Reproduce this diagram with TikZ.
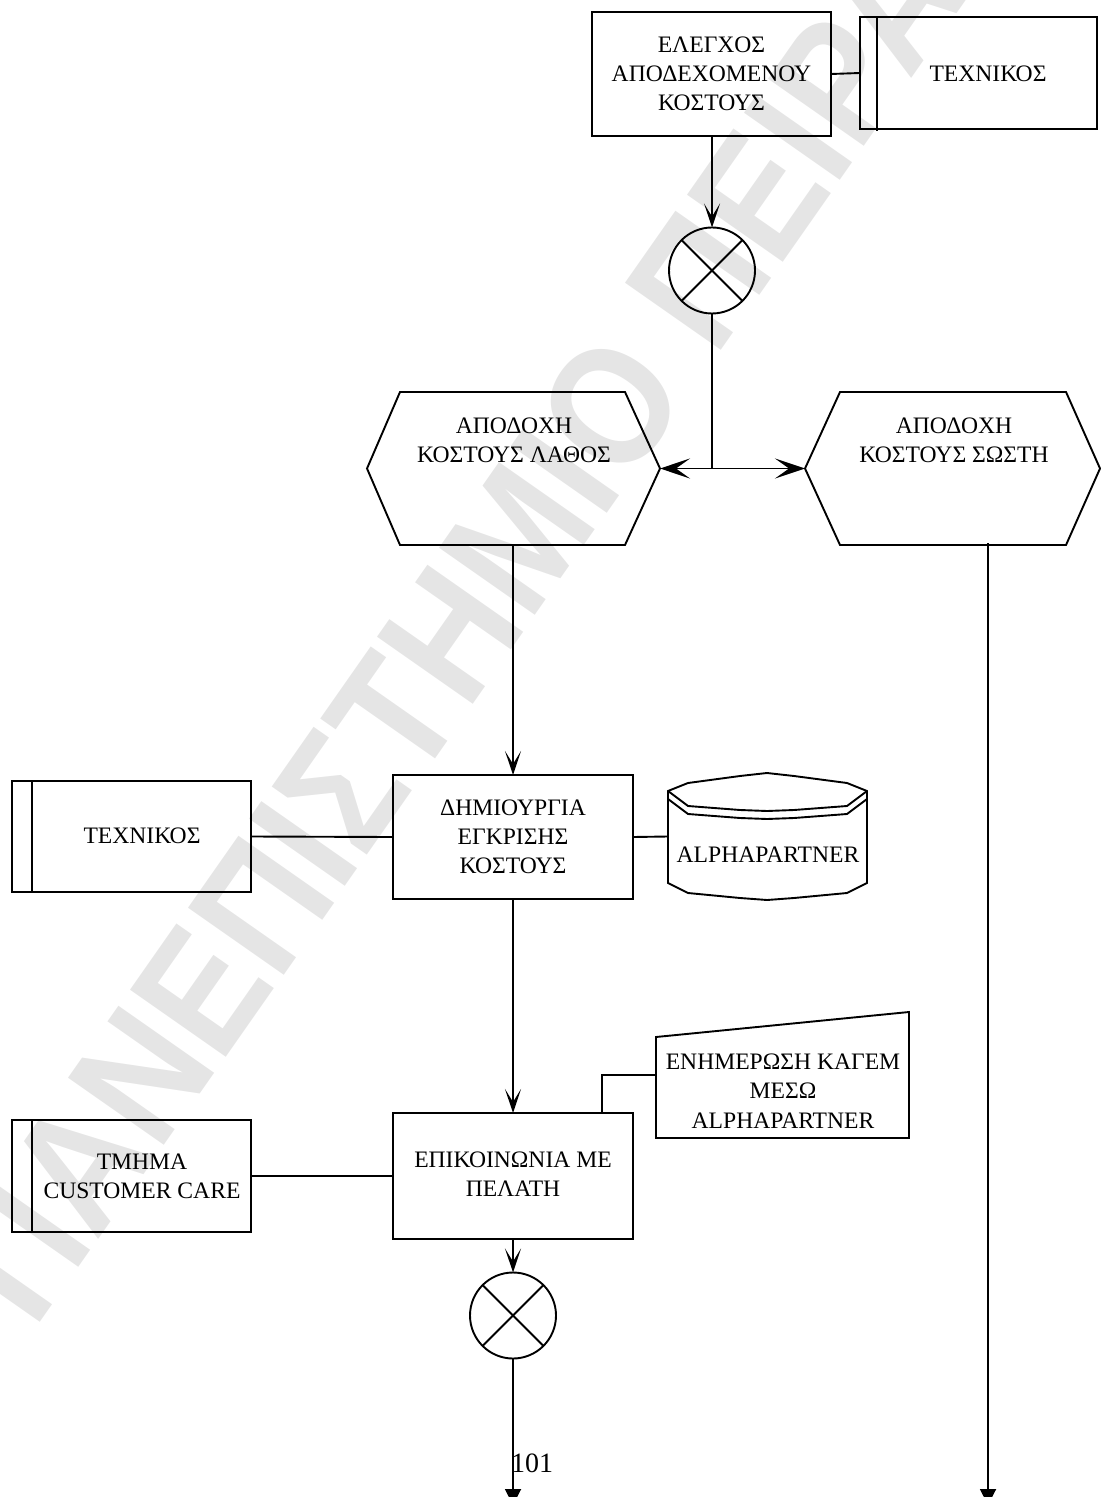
\documentclass[tikz,border=0pt]{standalone}
\usepackage{fontspec}
\setmainfont{Liberation Serif}
\newfontfamily\wmfont[FakeStretch=0.88]{Liberation Sans}
\usetikzlibrary{arrows.meta,calc}
\definecolor{wmgray}{RGB}{229,229,229}

\tikzset{
  varrow/.tip={Stealth[length=12pt,width=8pt,inset=6.5pt]},
  harrow/.tip={Stealth[length=15pt,width=10pt,inset=7pt]},
  endtri/.tip={Triangle[length=8pt,width=8pt]},
  lbl/.style={inner sep=0pt,outer sep=0pt,align=center,
    font=\fontsize{11.8}{14.6}\selectfont},
  procbox/.style 2 args={lbl,draw,rectangle,minimum width=#1,minimum height=#2},
  ghost/.style 2 args={rectangle,inner sep=0pt,outer sep=0pt,minimum width=#1,minimum height=#2},
  xorc/.style={draw,circle,minimum size=43pt,inner sep=0pt,outer sep=0pt},
  wm/.style={inner sep=0pt,outer sep=0pt,text=wmgray,
    font=\wmfont\bfseries\fontsize{85}{85}\selectfont},
}

\begin{document}
\begin{tikzpicture}[x=0.5pt,y=-0.5pt,line width=0.95pt]
\useasboundingbox (0,0) rectangle (1100,1497);

% background watermark
\node[wm,rotate=55,anchor=west] (wmark) at (-13,1297) {ΠΑΝΕΠΙΣΤΗΜΙΟ ΠΕΙΡΑΙΩΣ};

% process boxes
\node[procbox={119.5pt}{62pt}] (chk) at (711.5,74) {ΕΛΕΓΧΟΣ\\ΑΠΟΔΕΧΟΜΕΝΟΥ\\ΚΟΣΤΟΥΣ};
\node[procbox={120pt}{62pt}] (crt) at (513,837) {ΔΗΜΙΟΥΡΓΙΑ\\ΕΓΚΡΙΣΗΣ\\ΚΟΣΤΟΥΣ};
\node[procbox={120pt}{63pt}] (comm) at (513,1176) {\raisebox{-4pt}{\begin{tabular}{@{}c@{}}ΕΠΙΚΟΙΝΩΝΙΑ ΜΕ\\ΠΕΛΑΤΗ\end{tabular}}};

% role boxes with a side stripe
\node[procbox={118.5pt}{56pt}] (tech1) at (978.5,73) {};
\node[procbox={119.5pt}{55.5pt}] (tech2) at (131.5,836.5) {};
\node[procbox={119.5pt}{56pt}] (cc) at (131.5,1176) {};
\draw ($(tech1.north west)+(17,0)$) -- ($(tech1.south west)+(17,2)$);
\draw ($(tech2.north west)+(20,0)$) -- ($(tech2.south west)+(20,0)$);
\draw ($(cc.north west)+(20,0)$) -- ($(cc.south west)+(20,0)$);
\node[lbl] (tech1t) at (988,74) {ΤΕΧΝΙΚΟΣ};
\node[lbl] (tech2t) at (142,836) {ΤΕΧΝΙΚΟΣ};
\node[lbl] (cct) at (142,1176) {ΤΜΗΜΑ\\CUSTOMER CARE};

% XOR connectors
\node[xorc] (x1) at (712,270.5) {};
\node[xorc] (x2) at (513,1315.5) {};
\foreach \c in {x1,x2}{
  \draw (\c.45) -- (\c.225);
  \draw (\c.135) -- (\c.-45);
}

% events (hexagons)
\node[ghost={146.5pt}{76.5pt}] (hexL) at (513.5,468.5) {};
\node[ghost={147.5pt}{76.5pt}] (hexR) at (952.5,468.5) {};
\draw (hexL.west) -- (400,392) -- (625,392) -- (hexL.east) -- (625,545) -- (400,545) -- cycle;
\draw (hexR.west) -- (840,392) -- (1066,392) -- (hexR.east) -- (1066,545) -- (840,545) -- cycle;
\node[lbl] (hexLt) at (514,440) {ΑΠΟΔΟΧΗ\\ΚΟΣΤΟΥΣ ΛΑΘΟΣ};
\node[lbl] (hexRt) at (954,440) {ΑΠΟΔΟΧΗ\\ΚΟΣΤΟΥΣ ΣΩΣΤΗ};

% database
\node[ghost={99.5pt}{63.5pt}] (db) at (767.5,836.5) {};
\draw (668,791) -- (688,783) -- (740,776) -- (767,773) -- (794,776) -- (847,783) -- (867,791)
  -- (867,883) -- (847,893) -- (794,898) -- (767,900) -- (740,898) -- (688,893) -- (668,883) -- cycle;
\foreach \c in {791,799}{
  \draw (668,\c) -- (688,\c+15) -- (740,\c+19) -- (767,\c+20) -- (794,\c+19) -- (847,\c+15) -- (867,\c);
}
\node[lbl] (dbt) at (768,855) {ALPHAPARTNER};

% document input
\node[ghost={126.5pt}{63pt}] (upd) at (782.5,1075) {};
\draw (656,1037) -- (909,1012) -- (909,1138) -- (656,1138) -- cycle;
\node[lbl] (updt) at (783,1091) {ΕΝΗΜΕΡΩΣΗ ΚΑΓΕΜ\\ΜΕΣΩ\\ALPHAPARTNER};

% page number
\node[inner sep=0pt,font=\fontsize{14}{14}\selectfont] (pg) at (532,1463) {101};

% connectors
\coordinate (j) at (x1 |- hexL.east);
\coordinate (rOut) at (988,543);
\coordinate (endL) at (513,1505);
\draw (chk.east) -- (tech1.west);
\draw[-{varrow}] (x1.north |- chk.south) -- (x1.north);
\draw (x1.south) -- (j);
\draw[-{harrow}] (j) -- (hexL.east);
\draw[-{harrow}] (j) -- (hexR.west);
\draw[-{varrow}] (crt.north |- hexL.south) -- (crt.north);
\draw[-{endtri}] (rOut) -- (rOut |- endL);
\draw (tech2.east) -- (crt.west);
\draw (crt.east) -- (db.west);
\draw[-{varrow}] (crt.south) -- (comm.north);
\draw (cc.east) -- (comm.west);
\draw ($(comm.north east)+(-31,0)$) |- (upd.west);
\draw[-{varrow}] (comm.south) -- (x2.north);
\draw[-{endtri}] (x2.south) -- (endL);
\end{tikzpicture}
\end{document}
